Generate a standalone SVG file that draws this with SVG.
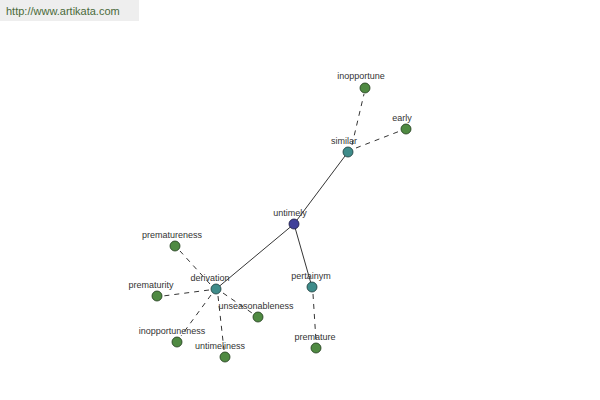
<svg xmlns="http://www.w3.org/2000/svg" width="600" height="400" viewBox="0 0 600 400">
<style>
.lbl{font-family:"Liberation Sans",Arial,sans-serif;font-size:9px;fill:#333;text-anchor:middle}
.solid{stroke:#000;stroke-width:0.8;fill:none}
.dash{stroke:#000;stroke-width:0.8;stroke-dasharray:5,5;fill:none}
.g{fill:#4f8a42;stroke:#1f3a1a;stroke-width:0.8}
.t{fill:#3f8c8a;stroke:#1a3a3a;stroke-width:0.8}
.b{fill:#40409a;stroke:#1a1a40;stroke-width:0.8}
</style>
<rect width="600" height="400" fill="#fff"/>
<rect x="0" y="0" width="139" height="21" fill="#eeeeee"/>
<text x="6" y="15" font-family="Liberation Sans,Arial,sans-serif" font-size="11" fill="#4a6a3a">http://www.artikata.com</text>
<g id="connectors">
<line class="solid" x1="294" y1="224" x2="348" y2="152"/>
<line class="solid" x1="294" y1="224" x2="216" y2="289"/>
<line class="solid" x1="294" y1="224" x2="312" y2="287"/>
<line class="dash" x1="352" y1="145" x2="364" y2="94"/>
<line class="dash" x1="356" y1="148" x2="400" y2="131"/>
<line class="dash" x1="210" y1="284" x2="180" y2="251"/>
<line class="dash" x1="209" y1="290" x2="163" y2="296"/>
<line class="dash" x1="211" y1="295" x2="181" y2="336"/>
<line class="dash" x1="218" y1="296" x2="224" y2="350"/>
<line class="dash" x1="223" y1="293" x2="252" y2="313"/>
<line class="dash" x1="313" y1="294" x2="316" y2="341"/>
</g>
<g id="n-untimely"><circle class="b" cx="294" cy="224" r="5"/><text class="lbl" x="290" y="216">untimely</text></g>
<g id="n-similar"><circle class="t" cx="348" cy="152" r="5"/><text class="lbl" x="344" y="144">similar</text></g>
<g id="n-inopportune"><circle class="g" cx="365" cy="88" r="5"/><text class="lbl" x="361" y="79">inopportune</text></g>
<g id="n-early"><circle class="g" cx="406" cy="129" r="5"/><text class="lbl" x="402" y="121">early</text></g>
<g id="n-derivation"><circle class="t" cx="216" cy="289" r="5"/><text class="lbl" x="210" y="281">derivation</text></g>
<g id="n-prematureness"><circle class="g" cx="175" cy="246" r="5"/><text class="lbl" x="172" y="238">prematureness</text></g>
<g id="n-prematurity"><circle class="g" cx="157" cy="296" r="5"/><text class="lbl" x="151" y="288">prematurity</text></g>
<g id="n-inopportuneness"><circle class="g" cx="177" cy="342" r="5"/><text class="lbl" x="172" y="334">inopportuneness</text></g>
<g id="n-untimeliness"><circle class="g" cx="225" cy="357" r="5"/><text class="lbl" x="220" y="349">untimeliness</text></g>
<g id="n-unseasonableness"><circle class="g" cx="258" cy="317" r="5"/><text class="lbl" x="256" y="309">unseasonableness</text></g>
<g id="n-pertainym"><circle class="t" cx="312" cy="287" r="5"/><text class="lbl" x="311" y="279">pertainym</text></g>
<g id="n-premature"><circle class="g" cx="316" cy="348" r="5"/><text class="lbl" x="315" y="340">premature</text></g>
</svg>
